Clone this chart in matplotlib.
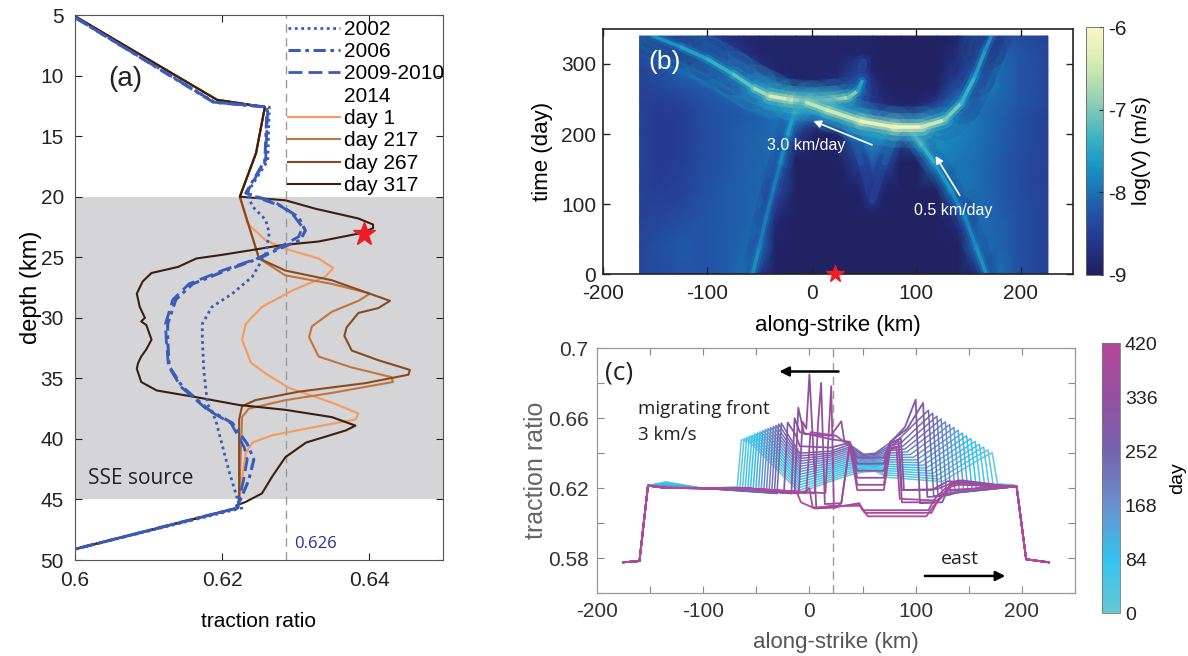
import numpy as np
import matplotlib
matplotlib.use('Agg')
import matplotlib.pyplot as plt
from matplotlib.colors import LinearSegmentedColormap, Normalize
from matplotlib.collections import LineCollection
from matplotlib.lines import Line2D
from matplotlib.patches import Rectangle
from matplotlib.cm import ScalarMappable

plt.rcParams['font.family'] = ['Liberation Sans', 'DejaVu Sans']
plt.rcParams['axes.unicode_minus'] = False

# ================= panel (a) data =================
brown_upper_x = [0.6000, 0.6193, 0.6258, 0.6246, 0.6224]
brown_upper_d = [5.1, 12.0, 12.6, 16.4, 20.0]
bottom_x = [0.6221, 0.6000]
bottom_d = [45.7, 49.1]

day1_x = [0.6234, 0.6259, 0.6286, 0.6331, 0.6351, 0.6340, 0.6297, 0.6254, 0.6232, 0.6227,
          0.6239, 0.6259, 0.6291, 0.6349, 0.6385, 0.6381, 0.6327, 0.6268, 0.6241, 0.6232, 0.6223]
day1_d = [22.2, 23.6, 24.3, 25.1, 25.9, 26.6, 27.7, 29.1, 30.5, 31.8,
          33.7, 34.6, 35.8, 37.0, 37.9, 38.4, 39.0, 39.7, 40.3, 41.2, 45.0]

day217_x = [0.6250, 0.6286, 0.6349, 0.6401, 0.6385, 0.6349, 0.6322, 0.6318, 0.6331, 0.6376,
            0.6430, 0.6432, 0.6349, 0.6286, 0.6236, 0.6227, 0.6223]
day217_d = [25.1, 26.5, 27.2, 28.0, 28.6, 29.5, 30.7, 31.6, 33.2, 34.1,
            34.9, 35.3, 36.2, 36.8, 37.5, 38.2, 45.0]

day267_x = [0.6250, 0.6286, 0.6349, 0.6428, 0.6412, 0.6385, 0.6369, 0.6366, 0.6376, 0.6412,
            0.6455, 0.6453, 0.6394, 0.6304, 0.6245, 0.6227, 0.6223, 0.6223]
day267_d = [25.1, 26.1, 26.9, 28.6, 29.2, 29.6, 30.8, 31.5, 32.7, 33.5,
            34.3, 34.7, 35.4, 36.1, 36.8, 37.3, 38.4, 45.0]

day317_x = [0.6286, 0.6327, 0.6349, 0.6385, 0.6405, 0.6405, 0.6389, 0.6331, 0.6281, 0.6241,
            0.6200, 0.6165, 0.6140, 0.6104, 0.6092, 0.6084, 0.6088, 0.6095, 0.6090, 0.6097,
            0.6104, 0.6097, 0.6090, 0.6086, 0.6084, 0.6090, 0.6111, 0.6169, 0.6223,
            0.6286, 0.6349, 0.6381, 0.6368, 0.6314, 0.6286, 0.6268, 0.6254, 0.6232, 0.6219]
day317_d = [20.3, 21.0, 21.3, 21.8, 22.3, 22.6, 23.0, 23.7, 24.0, 24.4,
            24.8, 25.1, 25.8, 26.3, 27.0, 28.0, 29.1, 30.0, 30.3, 30.6,
            31.8, 32.6, 33.2, 33.7, 34.2, 35.3, 36.0, 36.6, 37.2,
            37.6, 38.2, 38.9, 39.3, 40.3, 41.5, 43.1, 44.5, 45.2, 45.5]

y2002_x = [0.6000, 0.6190, 0.6264, 0.6262, 0.6234, 0.6241, 0.6259, 0.6264, 0.6259, 0.6241,
           0.6214, 0.6186, 0.6173, 0.6173, 0.6175, 0.6180, 0.6191, 0.6209, 0.6221, 0.6227, 0.6000]
y2002_d = [5.2, 12.2, 12.6, 17.0, 19.7, 20.8, 21.9, 23.0, 24.7, 26.6,
           28.0, 29.1, 30.5, 31.6, 34.3, 37.1, 38.4, 42.6, 45.0, 45.7, 49.1]

y2006_x = [0.6000, 0.6188, 0.6261, 0.6258, 0.6232, 0.6281, 0.6304, 0.6313, 0.6306, 0.6281,
           0.6250, 0.6205, 0.6160, 0.6137, 0.6126, 0.6126, 0.6128, 0.6146, 0.6182, 0.6214,
           0.6234, 0.6243, 0.6236, 0.6223, 0.6221, 0.6000]
y2006_d = [5.2, 12.2, 12.6, 17.0, 19.7, 20.8, 21.7, 22.8, 23.6, 24.2,
           25.1, 26.1, 27.2, 28.5, 30.5, 31.8, 34.0, 35.7, 37.6, 38.7,
           40.4, 41.7, 43.4, 45.3, 45.7, 49.1]

y2009_x = [0.6000, 0.6189, 0.6262, 0.6259, 0.6233, 0.6273, 0.6295, 0.6309, 0.6304, 0.6277,
           0.6248, 0.6200, 0.6155, 0.6133, 0.6123, 0.6124, 0.6127, 0.6144, 0.6180, 0.6212,
           0.6230, 0.6234, 0.6229, 0.6222, 0.6221, 0.6000]
y2009_d = [5.2, 12.2, 12.6, 17.0, 19.7, 20.5, 21.4, 22.5, 23.3, 24.2,
           25.1, 26.1, 27.2, 28.5, 30.5, 31.8, 34.0, 35.7, 37.6, 38.7,
           40.7, 41.7, 43.4, 45.3, 45.7, 49.1]

star_a = (0.6393, 23.1)
ref_line_a = 0.6287

# ================= panel (b) data =================
grid_x = [-165, -145, -125, -105, -85, -65, -50, -35, -15, 5, 25, 45, 58, 70, 85, 100, 120, 140, 160, 180, 200, 226]
grid_t = [0, 40, 80, 120, 160, 200, 225, 245, 265, 290, 315, 340]
logv_t000 = [-8.40, -8.35, -8.25, -8.25, -8.20, -8.00, -8.65, -8.95, -8.95, -8.95, -8.95, -8.95, -8.95, -8.95, -8.95, -8.95, -8.95, -8.95, -8.80, -8.05, -8.30, -8.45]
logv_t040 = [-8.40, -8.30, -8.20, -8.25, -8.20, -8.10, -8.05, -8.90, -8.95, -8.95, -8.95, -8.95, -8.95, -8.95, -8.95, -8.95, -8.95, -8.95, -8.05, -8.10, -8.30, -8.45]
logv_t080 = [-8.45, -8.40, -8.35, -8.25, -8.20, -8.15, -8.05, -8.85, -8.95, -8.95, -8.95, -8.95, -8.95, -8.95, -8.95, -8.95, -8.95, -8.75, -8.05, -8.15, -8.30, -8.45]
logv_t120 = [-8.45, -8.50, -8.45, -8.30, -8.20, -8.15, -8.10, -8.35, -8.95, -8.95, -8.95, -8.90, -8.55, -8.90, -8.95, -8.95, -8.95, -7.95, -8.05, -8.20, -8.35, -8.45]
logv_t160 = [-8.45, -8.55, -8.50, -8.35, -8.25, -8.15, -8.10, -8.05, -8.95, -8.95, -8.95, -8.50, -8.20, -8.40, -8.95, -8.95, -7.85, -7.95, -8.05, -8.20, -8.35, -8.45]
logv_t200 = [-8.45, -8.55, -8.50, -8.35, -8.25, -8.15, -8.10, -8.05, -8.55, -8.95, -8.90, -7.90, -7.70, -7.80, -8.45, -8.10, -7.75, -7.85, -8.00, -8.15, -8.30, -8.45]
logv_t225 = [-8.45, -8.55, -8.50, -8.35, -8.25, -8.20, -8.15, -8.00, -7.80, -8.55, -7.50, -8.00, -8.35, -8.55, -8.65, -8.60, -8.00, -7.80, -8.00, -8.15, -8.30, -8.45]
logv_t245 = [-8.45, -8.50, -8.45, -8.30, -8.20, -8.10, -8.00, -7.70, -7.40, -7.40, -7.60, -8.25, -8.60, -8.80, -8.90, -8.90, -8.65, -7.80, -8.00, -8.10, -8.25, -8.40]
logv_t265 = [-8.45, -8.40, -8.30, -8.20, -8.05, -7.80, -7.80, -8.45, -8.85, -8.85, -8.70, -8.00, -8.70, -8.90, -8.95, -8.95, -8.90, -8.15, -7.80, -8.05, -8.25, -8.40]
logv_t290 = [-8.45, -8.30, -8.10, -7.90, -7.75, -8.25, -8.65, -8.85, -8.90, -8.90, -8.85, -8.35, -8.90, -8.95, -8.95, -8.95, -8.95, -8.60, -7.85, -8.05, -8.25, -8.40]
logv_t315 = [-8.40, -8.10, -7.80, -7.90, -8.35, -8.70, -8.85, -8.90, -8.90, -8.90, -8.90, -8.85, -8.90, -8.95, -8.95, -8.95, -8.95, -8.75, -7.95, -8.10, -8.25, -8.40]
logv_t340 = [-8.25, -7.95, -8.15, -8.40, -8.70, -8.85, -8.90, -8.90, -8.90, -8.90, -8.90, -8.90, -8.90, -8.95, -8.95, -8.95, -8.95, -8.85, -8.15, -8.25, -8.35, -8.45]

left_band_x = [-57, -50, -44, -37, -30, -23, -17, -8]
left_band_t = [0, 40, 80, 120, 160, 200, 230, 244]
left_band_v = [-7.6, -7.85, -7.9, -7.9, -7.85, -7.7, -7.4, -6.9]
right_band_x = [167, 157, 147, 133, 117, 105, 95]
right_band_t = [0, 40, 80, 120, 160, 185, 205]
right_band_v = [-7.6, -7.75, -7.8, -7.75, -7.5, -7.2, -6.9]
v_left_x = [57, 47, 38, 28]
v_left_t = [105, 160, 200, 222]
v_left_v = [-8.5, -8.3, -8.0, -7.6]
v_right_x = [58, 70, 82]
v_right_t = [105, 160, 205]
v_right_v = [-8.5, -8.3, -7.8]
halo1_x = [-165, -130, -100, -75, -55, -40]
halo1_t = [345, 326, 306, 285, 266, 256]
halo1_v = [-7.7, -7.55, -7.45, -7.35, -7.2, -7.0]
arc1_x = [-152, -125, -100, -75, -55, -40, -20, 0, 20, 35, 44, 48]
arc1_t = [340, 324, 307, 285, 265, 254, 249, 247, 249, 252, 262, 275]
arc1_v = [-7.8, -7.6, -7.5, -7.3, -7.0, -6.6, -6.25, -6.1, -6.3, -6.7, -7.3, -7.8]
arc2_x = [-5, 15, 47, 79, 105, 127, 143, 156, 166, 172]
arc2_t = [245, 234, 218, 210, 210, 220, 244, 282, 320, 340]
arc2_v = [-6.6, -6.55, -6.35, -6.1, -6.2, -6.8, -7.2, -7.5, -7.7, -7.8]
cusp_x = [43, 46, 49]
cusp_t = [258, 280, 302]
cusp_v = [-7.7, -8.0, -8.4]
star_b = (22, 0)

# ================= panel (c) data =================
edge_w_x = [-175, -160, -152]
edge_w_y = [0.5778, 0.5785, 0.6215]
edge_e_x = [195, 204, 225]
edge_e_y = [0.6210, 0.5795, 0.5778]

prog_days = [0, 17, 34, 51, 68, 85, 102, 119, 136, 153, 170, 187, 204, 221, 238, 255]
west_bump_y = [0.6237, 0.6234, 0.6231, 0.6228, 0.6225, 0.6222, 0.6219, 0.6216, 0.6213, 0.6211, 0.6209, 0.6207, 0.6205, 0.6204, 0.6203, 0.6202]
west_flat_y = [0.6198, 0.6199, 0.6199, 0.6200, 0.6200, 0.6200, 0.6200, 0.6200, 0.6200, 0.6200, 0.6200, 0.6200, 0.6200, 0.6200, 0.6200, 0.6200]
west_front_x = [-64, -61.5, -59, -56.5, -54, -51.5, -49, -46.5, -44, -41.5, -39, -36.5, -34, -31.5, -29, -26.5]
west_base_y = [0.6208, 0.6206, 0.6204, 0.6201, 0.6199, 0.6197, 0.6194, 0.6191, 0.6189, 0.6186, 0.6183, 0.6181, 0.6178, 0.6176, 0.6173, 0.6170]
west_peak_y = [0.6477, 0.6484, 0.6490, 0.6497, 0.6503, 0.6510, 0.6516, 0.6522, 0.6529, 0.6535, 0.6541, 0.6547, 0.6553, 0.6559, 0.6566, 0.6572]
west_shoulder_y = [0.6462, 0.6465, 0.6468, 0.6471, 0.6473, 0.6476, 0.6478, 0.6480, 0.6482, 0.6484, 0.6486, 0.6487, 0.6488, 0.6489, 0.6490, 0.6490]
center_y = [0.6175, 0.6190, 0.6205, 0.6220, 0.6235, 0.6250, 0.6265, 0.6280, 0.6295, 0.6310, 0.6325, 0.6340, 0.6355, 0.6370, 0.6385, 0.6400]
mid20_y = [0.6240, 0.6251, 0.6263, 0.6274, 0.6286, 0.6297, 0.6309, 0.6320, 0.6332, 0.6343, 0.6355, 0.6366, 0.6378, 0.6389, 0.6400, 0.6412]
mid38_y = [0.6275, 0.6287, 0.6298, 0.6310, 0.6321, 0.6333, 0.6344, 0.6356, 0.6367, 0.6379, 0.6390, 0.6402, 0.6413, 0.6425, 0.6436, 0.6449]
mid51_y = [0.6293, 0.6300, 0.6307, 0.6313, 0.6320, 0.6327, 0.6333, 0.6340, 0.6347, 0.6353, 0.6360, 0.6367, 0.6373, 0.6380, 0.6387, 0.6394]
mid62_y = [0.6297, 0.6304, 0.6311, 0.6318, 0.6325, 0.6332, 0.6339, 0.6346, 0.6352, 0.6359, 0.6366, 0.6373, 0.6380, 0.6387, 0.6394, 0.6400]
mid74_y = [0.6262, 0.6275, 0.6287, 0.6300, 0.6312, 0.6325, 0.6337, 0.6350, 0.6362, 0.6375, 0.6387, 0.6400, 0.6412, 0.6425, 0.6437, 0.6452]
east_base_x = [125, 122, 119, 116, 113, 110, 107, 104, 101, 98, 95, 92, 90, 88, 86, 84]
east_base_y = [0.6238, 0.6253, 0.6269, 0.6284, 0.6300, 0.6315, 0.6331, 0.6346, 0.6362, 0.6377, 0.6393, 0.6408, 0.6424, 0.6440, 0.6458, 0.6480]
east_front_x = [172, 168, 164, 160, 156, 152, 148, 144, 140, 136, 132, 128, 124, 120, 116, 112]
east_shoulder_y = [0.6365, 0.6379, 0.6393, 0.6407, 0.6421, 0.6435, 0.6449, 0.6463, 0.6477, 0.6491, 0.6505, 0.6519, 0.6533, 0.6547, 0.6561, 0.6575]
east_peak_y = [0.6403, 0.6419, 0.6435, 0.6451, 0.6467, 0.6483, 0.6499, 0.6515, 0.6531, 0.6547, 0.6563, 0.6579, 0.6595, 0.6611, 0.6628, 0.6645]
east_after_y = [0.6225, 0.6220, 0.6216, 0.6211, 0.6207, 0.6202, 0.6198, 0.6193, 0.6189, 0.6184, 0.6180, 0.6175, 0.6171, 0.6166, 0.6160, 0.6155]
east_tail_y = [0.6220, 0.6217, 0.6214, 0.6210, 0.6207, 0.6204, 0.6200, 0.6197, 0.6194, 0.6190, 0.6187, 0.6184, 0.6180, 0.6177, 0.6173, 0.6170]

late_days = [285, 300, 315, 330, 345, 360, 380, 400, 420]
late_w_x = [-135, -100, -60]
late_w_y = [0.6202, 0.6200, 0.6200]
late1_x = [-24, -20.5, -13, -9, 20, 38, 45, 70, 76, 92, 107, 111, 130, 150, 190]
late1_y = [0.6172, 0.6575, 0.6505, 0.6440, 0.6432, 0.6460, 0.6375, 0.6375, 0.6465, 0.6540, 0.6687, 0.6150, 0.6160, 0.6195, 0.6210]
late2_x = [-17, -14, -9, 20, 38, 45, 70, 76, 90, 100, 104, 125, 133, 145, 160, 190]
late2_y = [0.6170, 0.6600, 0.6520, 0.6480, 0.6465, 0.6340, 0.6340, 0.6460, 0.6550, 0.6706, 0.6115, 0.6120, 0.6230, 0.6245, 0.6215, 0.6210]
late3_x = [-14, -10.5, -5, 20, 30, 33, 38, 45, 70, 76, 86, 89, 115, 130, 145, 190]
late3_y = [0.6172, 0.6660, 0.6510, 0.6500, 0.6582, 0.6463, 0.6463, 0.6300, 0.6300, 0.6455, 0.6485, 0.6190, 0.6190, 0.6240, 0.6235, 0.6210]
late4_x = [-10, -6.5, -3, 0, 6.5, 25, 30, 38, 45, 70, 76, 84, 87, 120, 140, 150, 190]
late4_y = [0.6170, 0.6580, 0.6540, 0.6850, 0.6085, 0.6090, 0.6115, 0.6455, 0.6260, 0.6260, 0.6440, 0.6470, 0.6190, 0.6195, 0.6245, 0.6240, 0.6210]
late5_x = [5, 8, 11, 14.5, 30, 38, 45, 70, 76, 84, 87, 120, 135, 150, 190]
late5_y = [0.6172, 0.6560, 0.6801, 0.6110, 0.6115, 0.6450, 0.6220, 0.6220, 0.6430, 0.6440, 0.6120, 0.6120, 0.6235, 0.6230, 0.6210]
late6_x = [15, 18, 20.5, 23, 47, 50, 112, 118, 128, 140, 190]
late6_y = [0.6172, 0.6500, 0.6782, 0.6090, 0.6115, 0.6075, 0.6075, 0.6140, 0.6200, 0.6220, 0.6210]
late7_x = [-3, 1, 25, 38, 45, 70, 76, 82, 85, 120, 135, 150, 190]
late7_y = [0.6172, 0.6520, 0.6500, 0.6440, 0.6190, 0.6190, 0.6420, 0.6430, 0.6140, 0.6130, 0.6225, 0.6225, 0.6210]
late8_x = [-5, 0, 3, 20, 47, 52, 115, 120, 130, 190]
late8_y = [0.6175, 0.6200, 0.6090, 0.6095, 0.6105, 0.6060, 0.6060, 0.6120, 0.6190, 0.6210]
late9_x = [-12, -8, 5, 20, 48, 55, 110, 117, 130, 190]
late9_y = [0.6180, 0.6120, 0.6085, 0.6100, 0.6100, 0.6040, 0.6040, 0.6100, 0.6185, 0.6210]
star_x_c = 22

# ================= figure =================
fig = plt.figure(figsize=(11.88, 6.56), dpi=100)

# ---------- panel (a) ----------
blue = '#3a5cb8'
c_day1, c_day217, c_day267, c_day317 = '#f59b5e', '#c2753f', '#8a4a22', '#3b2012'
ax = fig.add_axes([0.0631, 0.1463, 0.3098, 0.8308])
ax.axhspan(20, 45, color='#d5d4d6', zorder=0, lw=0)
ax.axvline(ref_line_a, color='#9a9a9a', lw=1.0, ls=(0, (6, 4)), zorder=1)

def brown_curve(lx, ld):
    xs = list(brown_upper_x) + list(lx) + bottom_x
    ds = list(brown_upper_d) + list(ld) + bottom_d
    return xs, ds

for lx, ld, col in [(day1_x, day1_d, c_day1), (day217_x, day217_d, c_day217),
                    (day267_x, day267_d, c_day267), (day317_x, day317_d, c_day317)]:
    xs, ds = brown_curve(lx, ld)
    ax.plot(xs, ds, color=col, lw=1.5, zorder=3, solid_joinstyle='round')

ls2002 = (0, (1, 1.3))
ls2006 = (0, (4, 1.5, 1.2, 1.5))
ls2009 = (0, (5, 2.2))
ax.plot(y2002_x, y2002_d, color=blue, lw=2.0, ls=ls2002, zorder=4)
ax.plot(y2006_x, y2006_d, color=blue, lw=2.2, ls=ls2006, zorder=4)
ax.plot(y2009_x, y2009_d, color=blue, lw=2.0, ls=ls2009, zorder=4)
ax.plot([star_a[0]], [star_a[1]], marker='*', color='#ee1c24', ms=17, mec='#ee1c24', zorder=6)

ax.set_xlim(0.6, 0.65)
ax.set_ylim(50, 5)
ax.set_xticks([0.6, 0.62, 0.64])
ax.set_xticklabels(['0.6', '0.62', '0.64'])
ax.set_yticks(range(5, 51, 5))
ax.tick_params(direction='in', top=True, right=True, length=5, width=0.8, labelsize=15, pad=8, colors='#222')
for s in ax.spines.values():
    s.set_color('#555')
    s.set_linewidth(0.8)
ax.set_xlabel('traction ratio', fontsize=15, labelpad=16)
ax.set_ylabel('depth (km)', fontsize=17, labelpad=-1)
ax.text(0.6045, 10.3, '(a)', fontsize=20, va='center', ha='left', color='#222')
ax.text(0.6018, 43.3, 'SSE source', fontsize=15, va='center', ha='left', color='#222',
        family=['Open Sans', 'DejaVu Sans'])
ax.text(0.6298, 48.7, '0.626', fontsize=12, va='center', ha='left', color='#2b2f8f',
        family=['Open Sans', 'DejaVu Sans'])

handles = [Line2D([], [], color=blue, lw=2.0, ls=ls2002),
           Line2D([], [], color=blue, lw=2.2, ls=ls2006),
           Line2D([], [], color=blue, lw=2.0, ls=ls2009),
           Line2D([], [], color='none', lw=0),
           Line2D([], [], color=c_day1, lw=1.5),
           Line2D([], [], color=c_day217, lw=1.5),
           Line2D([], [], color=c_day267, lw=1.5),
           Line2D([], [], color=c_day317, lw=1.5)]
labels = ['2002', '2006', '2009-2010', '2014', 'day 1', 'day 217', 'day 267', 'day 317']
leg = ax.legend(handles, labels, loc='upper right', bbox_to_anchor=(1.01, 0.995), frameon=False,
                fontsize=15, handlelength=2.5, handletextpad=0.2, labelspacing=0.16,
                borderaxespad=0.0, borderpad=0.1)

# ---------- panel (b) ----------
cmap_v = LinearSegmentedColormap.from_list('logv', [
    (0.00, '#1f1f5c'), (0.12, '#26338a'), (0.25, '#2353a6'), (0.33, '#1a70b2'),
    (0.45, '#1c98c6'), (0.55, '#3ab2c4'), (0.67, '#80c9b8'), (0.80, '#c0e2b0'),
    (0.90, '#e4f0b8'), (1.00, '#f8f6c8')])
norm_v = Normalize(-9, -6)

axb = fig.add_axes([0.5076, 0.5823, 0.3956, 0.3735])
grid_c = np.array([logv_t000, logv_t040, logv_t080, logv_t120, logv_t160, logv_t200,
                   logv_t225, logv_t245, logv_t265, logv_t290, logv_t315, logv_t340])
GX, GT = np.meshgrid(grid_x, grid_t)
axb.pcolormesh(GX, GT, grid_c, cmap=cmap_v, norm=norm_v, shading='gouraud', zorder=1)

clip_rect = Rectangle((grid_x[0], grid_t[0]), grid_x[-1] - grid_x[0], grid_t[-1] - grid_t[0],
                      transform=axb.transData, fc='none', ec='none')

def ridge(xs, ts, vs, widths, alphas, dims):
    pts = np.column_stack([xs, ts])
    segs = np.stack([pts[:-1], pts[1:]], axis=1)
    vals = np.asarray(vs, float)
    segv = (vals[:-1] + vals[1:]) / 2
    for w, a, d in zip(widths, alphas, dims):
        lc = LineCollection(segs, cmap=cmap_v, norm=norm_v, linewidths=w, alpha=a,
                            capstyle='round', joinstyle='round', zorder=2)
        lc.set_array(segv - d)
        axb.add_collection(lc)
        lc.set_clip_path(clip_rect)

band_style = dict(widths=(18, 11, 6, 2.6), alphas=(0.18, 0.3, 0.5, 0.9), dims=(0.6, 0.4, 0.2, 0.0))
arc_style = dict(widths=(30, 20, 12, 6.5, 2.6), alphas=(0.16, 0.24, 0.38, 0.65, 1.0),
                 dims=(1.3, 1.05, 0.75, 0.4, 0.0))
ridge(left_band_x, left_band_t, left_band_v, **band_style)
ridge(right_band_x, right_band_t, right_band_v, **band_style)
ridge(v_left_x, v_left_t, v_left_v, widths=(12, 5), alphas=(0.3, 0.5), dims=(0.3, 0.0))
ridge(v_right_x, v_right_t, v_right_v, widths=(12, 5), alphas=(0.3, 0.5), dims=(0.3, 0.0))
ridge(cusp_x, cusp_t, cusp_v, widths=(12, 6), alphas=(0.35, 0.55), dims=(0.3, 0.0))
ridge(halo1_x, halo1_t, halo1_v, widths=(34, 22, 12), alphas=(0.2, 0.28, 0.4), dims=(0.4, 0.25, 0.1))
ridge(arc1_x, arc1_t, arc1_v, **arc_style)
ridge(arc2_x, arc2_t, arc2_v, **arc_style)

axb.plot([star_b[0]], [star_b[1]], marker='*', color='#ee1c24', ms=13, mec='#ee1c24', clip_on=False, zorder=6)
axb.set_xlim(-200, 250)
axb.set_ylim(0, 350)
axb.set_xticks([-200, -100, 0, 100, 200])
axb.set_yticks([0, 100, 200, 300])
axb.tick_params(direction='in', top=True, right=True, length=5, width=1.0, labelsize=15, colors='#222')
axb.tick_params(axis='x', pad=7)
axb.tick_params(axis='y', pad=5)
for s in axb.spines.values():
    s.set_color('#222')
    s.set_linewidth(1.2)
axb.set_xlabel('along-strike (km)', fontsize=16, labelpad=9)
axb.set_ylabel('time (day)', fontsize=16, labelpad=6)
axb.text(-141, 303, '(b)', fontsize=19, color='white', ha='center', va='center')
axb.text(-5, 184, '3.0 km/day', fontsize=11.5, color='white', ha='center', va='center')
axb.text(135, 91, '0.5 km/day', fontsize=11.5, color='white', ha='center', va='center')
axb.annotate('', xy=(-1, 220), xytext=(60, 183),
             arrowprops=dict(arrowstyle='-|>', color='white', lw=1.2, mutation_scale=11))
axb.annotate('', xy=(117, 172), xytext=(143, 109),
             arrowprops=dict(arrowstyle='-|>', color='white', lw=1.2, mutation_scale=11))

caxb = fig.add_axes([0.9141, 0.5808, 0.0143, 0.378])
cbb = fig.colorbar(ScalarMappable(norm=norm_v, cmap=cmap_v), cax=caxb, ticks=[-9, -8, -7, -6])
cbb.ax.tick_params(labelsize=15, direction='in', length=3, colors='#222')
cbb.outline.set_linewidth(0.6)
cbb.outline.set_edgecolor('#666')
cbb.set_label('log(V) (m/s)', fontsize=15, labelpad=4)

# ---------- panel (c) ----------
cmap_d = LinearSegmentedColormap.from_list('day', [
    (0.0, '#66c7d6'), (0.2, '#34c3ee'), (0.4, '#6a91ce'), (0.6, '#7562ad'),
    (0.8, '#944f9f'), (1.0, '#b5479b')])
norm_d = Normalize(0, 420)

axc = fig.add_axes([0.5025, 0.0953, 0.4024, 0.3742])
axc.axvline(star_x_c, color='#9a9a9a', lw=1.0, ls=(0, (6, 4)), zorder=1)

for k, d in enumerate(prog_days):
    wf = west_front_x[k]
    ef = east_front_x[k]
    xs = edge_w_x + [-135, -100, wf - 4, wf, wf + 8, -9, 20, 38, 51, 62, 74,
                     east_base_x[k], ef - 12, ef, ef + 5, ef + 20] + edge_e_x
    ys = edge_w_y + [west_bump_y[k], west_flat_y[k], west_base_y[k], west_peak_y[k], west_shoulder_y[k],
                     center_y[k], mid20_y[k], mid38_y[k], mid51_y[k], mid62_y[k], mid74_y[k],
                     east_base_y[k], east_shoulder_y[k], east_peak_y[k], east_after_y[k], east_tail_y[k]] + edge_e_y
    axc.plot(xs, ys, color=cmap_d(norm_d(d)), lw=1.1, zorder=2)

late_x = [late1_x, late2_x, late3_x, late4_x, late5_x, late6_x, late7_x, late8_x, late9_x]
late_y = [late1_y, late2_y, late3_y, late4_y, late5_y, late6_y, late7_y, late8_y, late9_y]
for d, lx, ly in zip(late_days, late_x, late_y):
    xs = edge_w_x + late_w_x + lx + edge_e_x
    ys = edge_w_y + late_w_y + ly + edge_e_y
    axc.plot(xs, ys, color=cmap_d(norm_d(d)), lw=1.3, zorder=3)

axc.set_xlim(-200, 250)
axc.set_ylim(0.56, 0.70)
axc.set_xticks(np.arange(-200, 251, 50))
axc.set_xticklabels(['-200', '', '-100', '', '0', '', '100', '', '200', ''])
axc.set_yticks([0.56, 0.58, 0.60, 0.62, 0.64, 0.66, 0.68, 0.70])
axc.set_yticklabels(['', '0.58', '', '0.62', '', '0.66', '', '0.7'])
axc.tick_params(direction='in', top=True, right=True, length=5, width=0.8, labelsize=15, pad=6,
                colors='#888', labelcolor='#333')
for s in axc.spines.values():
    s.set_color('#999')
    s.set_linewidth(0.9)
axc.set_xlabel('along-strike (km)', fontsize=16, color='#555', labelpad=8)
axc.set_ylabel('traction ratio', fontsize=18, color='#666', labelpad=0)
axc.text(-192, 0.6855, '(c)', fontsize=19, color='#222', ha='left', va='center',
         family=['Open Sans', 'DejaVu Sans'])
axc.text(-161, 0.6650, 'migrating front', fontsize=13.5, color='#222', ha='left', va='center',
         family=['Open Sans', 'DejaVu Sans'])
axc.text(-161, 0.6505, '3 km/s', fontsize=13.5, color='#222', ha='left', va='center',
         family=['Open Sans', 'DejaVu Sans'])
axc.text(142, 0.5795, 'east', fontsize=14, color='#222', ha='center', va='center',
         family=['Open Sans', 'DejaVu Sans'])
axc.annotate('', xy=(-31, 0.6866), xytext=(30, 0.6866),
             arrowprops=dict(arrowstyle='-|>', color='k', lw=1.8, mutation_scale=14))
axc.annotate('', xy=(187, 0.5700), xytext=(106, 0.5700),
             arrowprops=dict(arrowstyle='-|>', color='k', lw=1.8, mutation_scale=14))

caxc = fig.add_axes([0.9276, 0.0655, 0.0152, 0.4116])
cbc = fig.colorbar(ScalarMappable(norm=norm_d, cmap=cmap_d), cax=caxc, ticks=[0, 84, 168, 252, 336, 420])
cbc.ax.tick_params(labelsize=14, direction='in', length=0, colors='#222')
cbc.outline.set_linewidth(0.6)
cbc.outline.set_edgecolor('#777')
cbc.set_label('day', fontsize=14, labelpad=8)

fig.savefig('out.png', dpi=100)
